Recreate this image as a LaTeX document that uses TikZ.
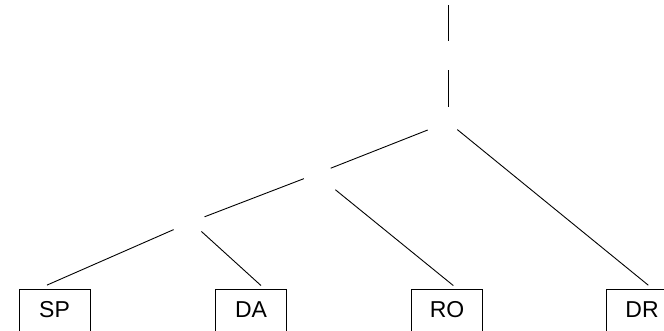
\documentclass[tikz,border=0pt]{standalone}
\usepackage{fontspec}
\setmainfont{Liberation Sans}
\usetikzlibrary{calc}

\begin{document}
\begin{tikzpicture}[x=1pt,y=-1pt,line width=0.9pt,
    leaf/.style={draw,minimum width=71pt,minimum height=42pt,inner sep=0pt,
      font=\fontsize{23}{27}\selectfont}]
      \useasboundingbox (0,0) rectangle (664,330);
      % branch points
      \coordinate (T) at (448,-10);
      \coordinate (M) at (448,55.5);
      \coordinate (R) at (448,122);
      \coordinate (A) at (316,174);
      \coordinate (B) at (191,222);
      % leaves
      \node[leaf] (SP) at (54.5,310) {SP};
      \node[leaf] (DA) at (251,310) {DA};
      \node[leaf] (RO) at (447,310) {RO};
      \node[leaf] (DR) at (642,310) {DR};
      \draw[shorten <=15pt,shorten >=14.5pt] (T) -- (M);
      \draw[shorten <=14.5pt,shorten >=15pt] (M) -- (R);
      \draw[shorten <=21.8pt,shorten >=15.8pt] (R) -- (A);
      \draw[shorten <=12pt,shorten >=5.3pt] (R) -- ([xshift=10.4pt]DR.north);
      \draw[shorten <=13pt,shorten >=14.5pt] (A) -- (B);
      \draw[shorten <=25pt,shorten >=4.8pt] (A) -- ([xshift=10pt]RO.north);
      \draw[shorten <=19pt,shorten >=8.6pt] (B) -- ([xshift=-15.4pt]SP.north);
      \draw[shorten <=14pt,shorten >=4.5pt] (B) -- ([xshift=13.3pt]DA.north);
  \end{tikzpicture}
\end{document}
